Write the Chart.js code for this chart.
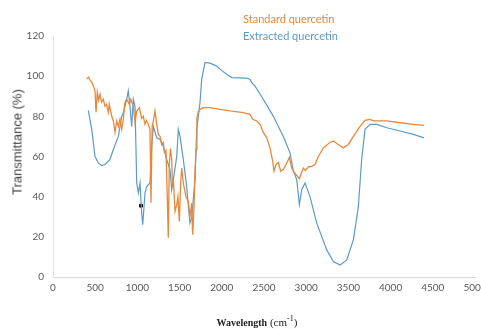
<!DOCTYPE html>
<html>
<head>
<meta charset="utf-8">
<script src="https://cdn.jsdelivr.net/npm/chart.js@4/dist/chart.umd.min.js"></script>
<style>
    body { margin: 0; background: #fff; }
    #wrap { position: relative; width: 481px; height: 329px; }
    .legend { position: absolute; left: 243px; font: 11px Lato, sans-serif; }
    #yTitle {
        position: absolute; left: 17px; top: 142px;
        transform: translate(-50%, -50%) rotate(-90deg);
        font: 13px "Liberation Sans", Arial, sans-serif; color: #404040; white-space: nowrap;
    }
    #xTitle {
        position: absolute; left: 257px; top: 321px; transform: translate(-50%, -50%);
        font: 11px "Liberation Serif", "Times New Roman", serif; color: #222; white-space: nowrap;
    }
</style>
</head>
<body>
<div id="wrap">
    <canvas id="chart" width="481" height="329"></canvas>
    <div class="legend" style="top:12px;color:#e8883a">Standard quercetin</div>
    <div class="legend" style="top:29px;color:#5b9bc8">Extracted quercetin</div>
    <div id="yTitle">Transmittance (%)</div>
    <div id="xTitle"><b style="font-size:10px">Wavelength</b> (cm<sup style="font-size:8px">-1</sup>)</div>
</div>
<script>
// standard quercetin
const stdWave = [399, 420, 440, 459, 480, 498, 510, 525, 540, 557, 575, 596, 616, 635, 655, 667, 696, 715, 735, 755, 774,
    794, 814, 833, 853, 873, 904, 921, 952, 972, 992, 1023, 1051, 1070, 1090, 1110, 1129, 1149, 1161, 1175, 1189, 1208, 1229,
    1248, 1268, 1288, 1307, 1320, 1339, 1354, 1366, 1378, 1392, 1406, 1416, 1426, 1446, 1466, 1480, 1497, 1513, 1525, 1544,
    1576, 1603, 1623, 1643, 1655, 1671, 1683, 1695, 1705, 1720, 1742, 1781, 1860, 1979, 2097, 2255, 2334, 2366, 2414, 2453,
    2492, 2532, 2571, 2603, 2619, 2642, 2670, 2698, 2729, 2761, 2800, 2829, 2848, 2880, 2919, 2966, 2990, 3030, 3060, 3105,
    3144, 3203, 3282, 3322, 3380, 3440, 3499, 3559, 3638, 3697, 3756, 3800, 3954, 4112, 4270, 4396];
const stdTrans = [98.5, 99.5, 98, 97, 95, 92.7, 82, 92, 88, 91, 87, 88.5, 85, 86, 82, 86, 80, 77.7, 72, 77.7, 75,
    78.5, 73.5, 78.5, 87, 88.5, 86, 88.5, 85, 77, 82.7, 84.3, 79, 80, 76, 78, 76, 73.5, 37, 75, 77.7, 82.7, 76,
    71, 70, 66, 67, 62, 63, 40, 19.5, 56, 64, 59, 45, 48.5, 32.7, 36, 40, 27.7, 46.8, 54.3, 46.8,
    40, 37.7, 30, 36.8, 21, 35, 53.5, 63.5, 79, 82, 83.5, 84.3, 84.3, 83.5, 82.7, 81.8, 81, 78.5, 77.7, 76,
    72, 69.3, 64.3, 57.7, 52.7, 56, 57, 52.7, 53.5, 56, 59.5, 54.3, 52.7, 51, 49, 54.3, 53, 55, 55, 56,
    60, 64.3, 67, 67.7, 66, 64.3, 66, 70, 75, 78, 78.5, 77.7, 77.7, 76.8, 76, 75.5];

// extracted quercetin
const extWave = [418, 459, 498, 537, 577, 616, 675, 715, 774, 814, 833, 873, 892, 912, 932, 952, 972, 992, 1011, 1031,
    1051, 1063, 1090, 1110, 1149, 1169, 1189, 1229, 1268, 1307, 1347, 1386, 1406, 1426, 1466, 1485, 1505, 1544, 1584, 1604,
    1623, 1643, 1683, 1703, 1742, 1762, 1801, 1860, 1940, 1979, 2058, 2118, 2295, 2334, 2354, 2394, 2492, 2611, 2729, 2808,
    2848, 2888, 2919, 2947, 2986, 3045, 3125, 3243, 3322, 3401, 3480, 3559, 3618, 3657, 3697, 3756, 3836, 3954, 4112, 4270, 4396];
const extTrans = [83, 73.5, 60, 56.8, 55.5, 56, 58.5, 63.5, 70, 80, 81.8, 88.5, 92.7, 85, 75, 88.5, 85, 46.8, 41.8, 46.8,
    31.8, 26, 41.8, 45, 46.8, 65, 75, 69.3, 68.5, 65, 58.5, 53.5, 43.5, 48.5, 60, 73.5, 70, 58.5, 45, 35,
    26.8, 29.3, 48.5, 73.5, 87, 98.5, 106.8, 106.5, 105, 103.5, 101, 99.3, 99, 98.5, 96.8, 95, 88.5, 80, 70, 61.8,
    52.7, 48.5, 36, 43.5, 46.8, 40, 26.8, 13.5, 7.7, 6, 8.5, 18.5, 35, 58.5, 73.5, 76, 76, 74.3, 72.7, 71, 69.3];

// the little black mark on the blue curve
const markWave = [1043];
const markTrans = [35.5];

const xTicks = [0, 500, 1000, 1500, 2000, 2500, 3000, 3500, 4000, 4500, 5000];

const toPoints = (xs, ys) => xs.map((x, i) => ({ x, y: ys[i] }));
const tickFont = { family: 'Lato, sans-serif', size: 10 };

new Chart(document.getElementById('chart'), {
    type: 'scatter',
    data: {
        datasets: [
            {
                label: 'Standard quercetin',
                data: toPoints(stdWave, stdTrans),
                showLine: true,
                borderColor: '#e8883a',
                borderWidth: 1.3,
                pointRadius: 0,
            },
            {
                label: 'Extracted quercetin',
                data: toPoints(extWave, extTrans),
                showLine: true,
                borderColor: '#5b9bc8',
                borderWidth: 1.2,
                pointRadius: 0,
            },
            {
                label: 'mark',
                data: toPoints(markWave, markTrans),
                pointStyle: 'rect',
                pointRadius: 2,
                backgroundColor: '#000',
                borderColor: '#000',
            },
        ],
    },
    options: {
        responsive: false,
        animation: false,
        layout: { padding: { left: 0, top: 36, right: 6, bottom: 0 } },
        plugins: { legend: { display: false }, tooltip: { enabled: false } },
        scales: {
            x: {
                type: 'linear',
                min: 0,
                max: 5000,
                afterBuildTicks: (scale) => { scale.ticks = xTicks.map((v) => ({ value: v })); },
                afterFit: (scale) => { scale.height = 52; scale.paddingRight = 0; },
                grid: { display: false, drawTicks: false },
                border: { display: true, color: '#d9d9d9' },
                ticks: { color: '#595959', font: tickFont, padding: 5, maxRotation: 0, callback: (v) => String(v) },
            },
            y: {
                min: 0,
                max: 120,
                afterFit: (scale) => { scale.width = 53; },
                grid: { display: false, drawTicks: false },
                border: { display: true, color: '#e3e3e3' },
                ticks: { stepSize: 20, color: '#595959', font: tickFont, padding: 9 },
            },
        },
    },
});
</script>
</body>
</html>
